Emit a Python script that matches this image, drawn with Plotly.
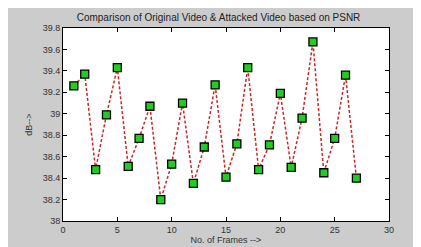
import plotly.graph_objects as go

frames = list(range(1, 28))
psnr = [39.26, 39.37, 38.48, 38.99, 39.43, 38.51, 38.77, 39.07, 38.20, 38.53,
        39.10, 38.35, 38.69, 39.27, 38.41, 38.72, 39.43, 38.48, 38.71, 39.19,
        38.50, 38.96, 39.67, 38.45, 38.77, 39.36, 38.40]

fig = go.Figure()
fig.add_trace(go.Scatter(
    x=frames, y=psnr, mode="lines+markers",
    line=dict(color="#c82828", width=1.5, dash="3px,2px"),
    marker=dict(symbol="square", size=8, color="#22cc22",
                line=dict(color="black", width=1.3)),
))

axis_font = dict(family="Arial, Liberation Sans, sans-serif", size=9, color="#333333")
fig.update_layout(
    width=421, height=247,
    paper_bgcolor="#cccccc", plot_bgcolor="white",
    margin=dict(l=55, r=40, t=20, b=27),
    showlegend=False,
    title=dict(text="Comparison of Original Video & Attacked Video based on PSNR",
               x=0.5, xanchor="center", y=0.963, yanchor="middle",
               font=dict(family="Arial, Liberation Sans, sans-serif", size=10, color="#222222")),
)
fig.update_xaxes(range=[0, 30], dtick=5, ticks="inside", ticklen=4, mirror="ticks",
                 showline=True, linecolor="black", linewidth=1, showgrid=False, zeroline=False,
                 tickfont=axis_font, tickcolor="black",
                 title=dict(text="No. of Frames -->", font=axis_font, standoff=2))
fig.update_yaxes(range=[38, 39.8], dtick=0.2, ticks="inside", ticklen=4, mirror="ticks",
                 showline=True, linecolor="black", linewidth=1, showgrid=False, zeroline=False,
                 tickfont=axis_font, tickcolor="black",
                 title=dict(text="dB-->", font=axis_font, standoff=8))

fig.write_html("out.html")
